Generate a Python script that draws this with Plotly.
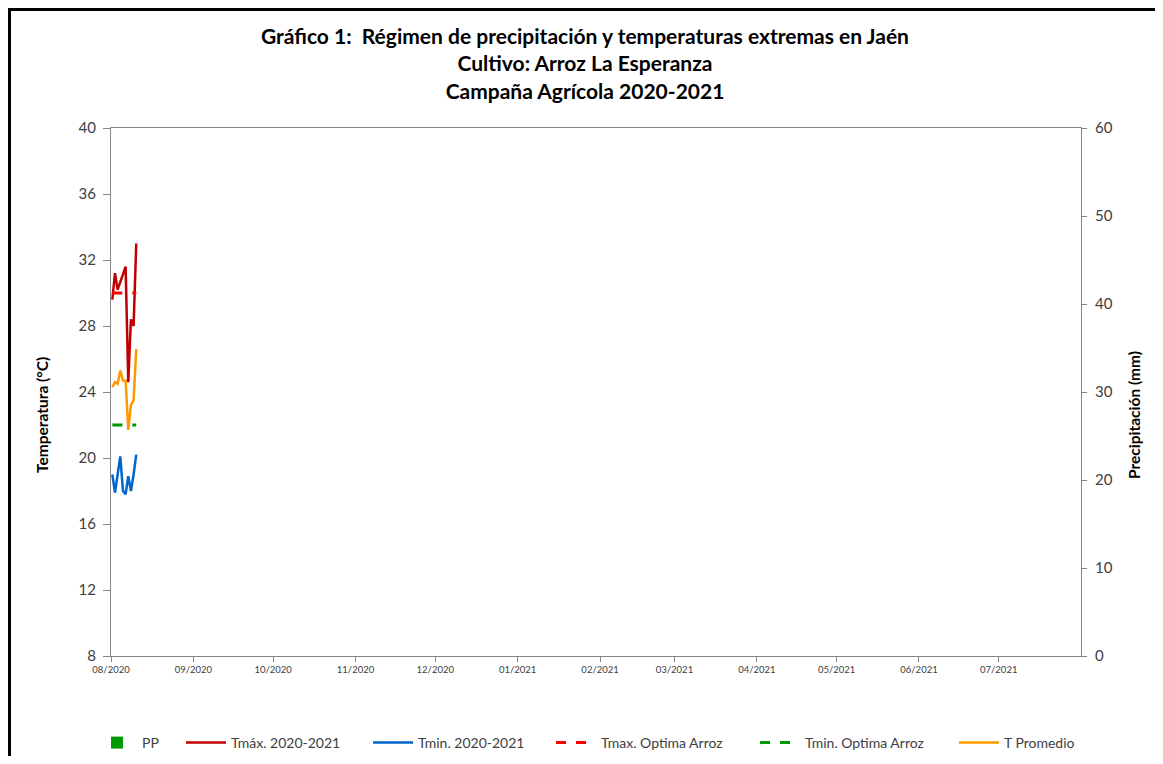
import plotly.graph_objects as go

# ---- data ----
fechas = ["2020-08-01 12:00", "2020-08-02 12:00", "2020-08-03 12:00", "2020-08-04 12:00",
          "2020-08-05 12:00", "2020-08-06 12:00", "2020-08-07 12:00", "2020-08-08 12:00",
          "2020-08-09 12:00", "2020-08-10 12:00"]
pp = [0, 0, 0, 0, 0, 0, 0, 0, 0, 0]
tmax = [29.6, 31.2, 30.2, 30.7, 31.1, 31.6, 24.6, 28.4, 28.0, 33.0]
tmin = [19.0, 17.9, 19.0, 20.1, 18.0, 17.8, 18.9, 18.0, 19.0, 20.2]
tmax_opt = [30, 30, 30, 30, 30, 30, 30, 30, 30, 30]
tmin_opt = [22, 22, 22, 22, 22, 22, 22, 22, 22, 22]
tprom = [24.3, 24.6, 24.5, 25.3, 24.7, 24.7, 21.7, 23.2, 23.5, 26.6]

title_lines = ["Gráfico 1:  Régimen de precipitación y temperaturas extremas en Jaén",
               "Cultivo: Arroz La Esperanza",
               "Campaña Agrícola 2020-2021"]
y_title = "Temperatura (°C)"
y2_title = "Precipitación (mm)"

FONT = "Lato, 'Noto Sans', sans-serif"
TXT = "#404040"
AX = "#868686"

# figure geometry (the page adds an 8px body margin)
OFF = 8
W, H = 1163 - 2 * OFF, 764 - 2 * OFF
L, T = 111 - OFF, 128 - OFF
PW = 1081 - 111
PH = 656 - 128
R = W - L - PW
B = H - T - PH


def px_x(page_x):
    return (page_x - OFF - L) / PW


def px_y(page_y):
    return (H - B - (page_y - OFF)) / PH


def cont_y(page_y):
    return 1 - (page_y - OFF) / H


fig = go.Figure()
fig.add_trace(go.Bar(x=fechas, y=pp, name="PP", marker=dict(color="#009900", line_width=0),
                     yaxis="y2", legend="legend"))
fig.add_trace(go.Scatter(x=fechas, y=tmax, name="Tmáx. 2020-2021", mode="lines",
                         line=dict(color="#C00000", width=2.5), legend="legend2"))
fig.add_trace(go.Scatter(x=fechas, y=tmin, name="Tmin. 2020-2021", mode="lines",
                         line=dict(color="#0066CC", width=2.5), legend="legend3"))
fig.add_trace(go.Scatter(x=fechas, y=tmax_opt, name="Tmax. Optima Arroz", mode="lines",
                         line=dict(color="#FF0000", width=3, dash="10px,10px"),
                         legend="legend4"))
fig.add_trace(go.Scatter(x=fechas, y=tmin_opt, name="Tmin. Optima Arroz", mode="lines",
                         line=dict(color="#009900", width=3, dash="10px,10px"),
                         legend="legend5"))
fig.add_trace(go.Scatter(x=fechas, y=tprom, name="T Promedio", mode="lines",
                         line=dict(color="#FF9900", width=2.5), legend="legend6"))

text_starts = [143, 232, 419, 602, 806, 1005]
legends = {}
for i, ts in enumerate(text_starts):
    key = "legend" if i == 0 else f"legend{i + 1}"
    legends[key] = dict(orientation="h", x=px_x(ts - 51), xanchor="left",
                        yref="container", y=cont_y(743), yanchor="middle",
                        bgcolor="rgba(0,0,0,0)",
                        font=dict(size=14, color=TXT), itemwidth=40)

fig.update_layout(
    width=W, height=H,
    margin=dict(l=L, r=R, t=T, b=B, autoexpand=False),
    paper_bgcolor="white", plot_bgcolor="white",
    font=dict(family=FONT, color=TXT),
    title=dict(text="<br>".join(title_lines), x=(585 - OFF) / W, xanchor="center",
               y=1 - 36 / H, yanchor="top",
               font=dict(family=FONT, size=21, color="black", weight="bold")),
    showlegend=True,
    xaxis=dict(type="date", range=["2020-08-01", "2021-07-31 23:00"], dtick="M1",
               tick0="2020-08-01", tickformat="%m/%Y", ticks="outside", ticklen=5,
               tickcolor=AX, showline=True, linecolor=AX, linewidth=1, mirror=True,
               showgrid=False, zeroline=False, tickfont=dict(size=9.5, color=TXT)),
    yaxis=dict(range=[8, 40], dtick=4, tick0=8, ticks="outside", ticklen=7, tickcolor=AX,
               showline=True, linecolor=AX, linewidth=1, showgrid=False, zeroline=False,
               ticklabelstandoff=4, tickfont=dict(size=15, color=TXT)),
    yaxis2=dict(range=[0, 60], dtick=10, overlaying="y", side="right", ticks="outside",
                ticklen=5, tickcolor=AX, showline=True, linecolor=AX, linewidth=1,
                showgrid=False, zeroline=False, ticklabelstandoff=5,
                tickfont=dict(size=15, color=TXT)),
    **legends,
)

# axis titles (placed like the reference, slightly below the plot centre)
fig.add_annotation(text=y_title, textangle=-90, xref="paper", yref="paper",
                   x=px_x(42), y=px_y(415), xanchor="center", yanchor="middle",
                   showarrow=False, font=dict(size=15.5, color="black", weight="bold"))
fig.add_annotation(text=y2_title, textangle=-90, xref="paper", yref="paper",
                   x=px_x(1134), y=px_y(415), xanchor="center", yanchor="middle",
                   showarrow=False, font=dict(size=15.5, color="black", weight="bold"))

# outer chart frame
fig.add_shape(type="line", xref="paper", yref="paper", x0=px_x(9.5), x1=px_x(9.5),
              y0=px_y(9), y1=px_y(800), line=dict(color="black", width=3))
fig.add_shape(type="line", xref="paper", yref="paper", x0=px_x(8), x1=px_x(1160),
              y0=px_y(9.5), y1=px_y(9.5), line=dict(color="black", width=3))

fig.write_html("out.html")
